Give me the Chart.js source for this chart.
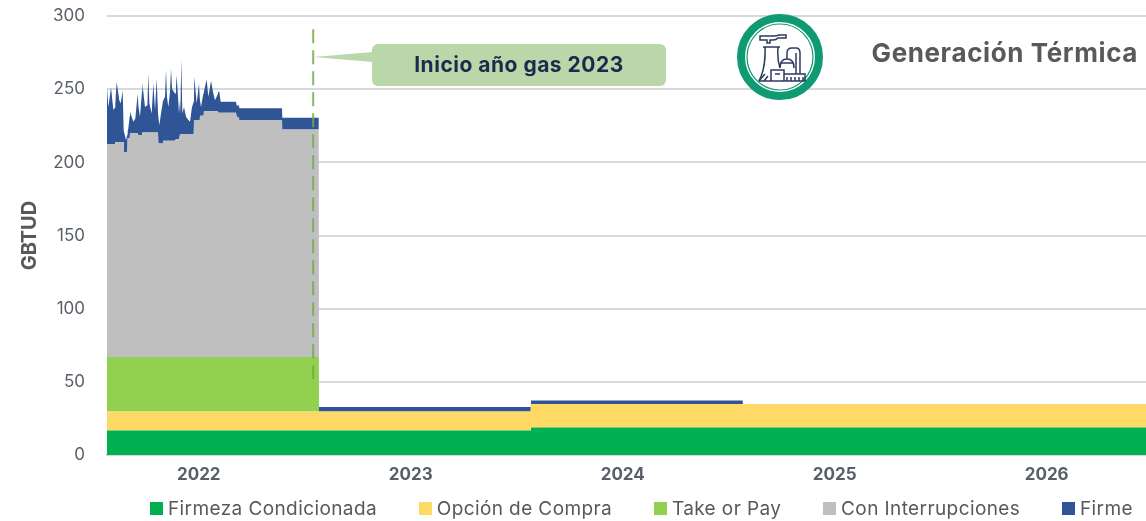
<!DOCTYPE html>
<html lang="es">
<head>
<meta charset="UTF-8">
<title>Generación Térmica</title>
<script src="https://cdn.jsdelivr.net/npm/chart.js@4"></script>
<style>
    html, body { margin: 0; padding: 0; background: #fff; overflow: hidden; }
    #wrap { position: relative; width: 1146px; height: 521px; font-family: 'Inter', sans-serif; }
    canvas { position: absolute; left: 0; top: 0; }
    #overlay { position: absolute; left: 0; top: 0; }
    #title { position: absolute; right: 8px; top: 37px; font-size: 26px; letter-spacing: 0.6px; font-weight: 700; color: #595959; white-space: nowrap; }
    #note { position: absolute; left: 372px; top: 44px; width: 294px; height: 42px; line-height: 42px; text-align: center;
            font-size: 21px; letter-spacing: 0.5px; font-weight: 700; color: #1d2a4d; white-space: nowrap; }
    #legend { position: absolute; left: 150px; width: 983px; top: 496px; display: flex; justify-content: space-between; font-size: 19px; letter-spacing: 0.4px; color: #595959; white-space: nowrap; }
    #legend span.item { display: flex; align-items: center; height: 24px; }
    #legend i { display: inline-block; width: 13px; height: 13px; margin-right: 5px; }
</style>
</head>
<body>
<div id="wrap">
    <canvas id="gasChart" width="1146" height="521"></canvas>
    <svg id="overlay" width="1146" height="521">
        <!-- callout -->
        <polygon points="313,57 373,52 373,62" fill="#b9d7a8"/>
        <rect x="372" y="44" width="294" height="42" rx="6" fill="#b9d7a8"/>
        <!-- plant icon -->
        <circle cx="780" cy="57" r="39" fill="#fff" stroke="#0f9a74" stroke-width="8"/>
        <circle cx="780" cy="57" r="33" fill="none" stroke="#0f9a74" stroke-width="1.2"/>
        <g fill="none" stroke="#2b3a5f" stroke-width="1.5">
            <path d="M760 36 h14 q3 0 5 -1 h7 v3 h-8 q-2 2 -5 2 h-3 v3 h-3 v-3 h-7 z"/>
            <path d="M763 47 h17 M765 47 q1 20 -6 34 M778 47 q-1 12 2 21"/>
            <path d="M759 81 h47 M771 81 v-11 h13 v11 M784 74 h21 v7 M775 74 h5"/>
            <path d="M780 68 q0 -9 7 -9 q7 0 7 9 M780 63 h14 M787 59 v-6 q0 -5 5 -5 h4 q4 0 4 5 v21 M796 53 v21"/>
            <path d="M787 77 v4 M791 77 v4 M795 77 v4 M799 77 v4 M803 77 v4 M759 81 l6 -7 M764 81 l4 -5"/>
        </g>
    </svg>
    <div id="title">Generación Térmica</div>
    <div id="note">Inicio año gas 2023</div>
    <div id="legend"></div>
</div>

<script>
    // Gas years and y axis
    const gasYears = ['2022', '2023', '2024', '2025', '2026'];
    const yearTickDays = [158, 523, 888, 1253, 1618];
    const yTicks = [0, 50, 100, 150, 200, 250, 300];

    // Flat parts of the stack, one value per gas year (GBTUD)
    const firmezaByYear = [16.8, 16.8, 18.8, 18.8, 18.8];
    const opcionByYear = [13, 13, 16, 16, 16];
    const takeOrPayByYear = [37.2, 0, 0, 0, 0];

    // First gas year, days since its start
    const days2022 = [0, 2.3, 6.9, 10.9, 13.8, 14.3, 16.6, 21.2, 23.5, 27, 28.7, 29.3, 32.7, 35, 35.6, 36.7, 39, 39.6, 45.3, 48.8,
        52.8, 54, 56.8, 60.3, 60.8, 65.4, 69.5, 71.2, 72.9, 76.9, 79.8, 82.7, 85.5, 87.8, 88.4, 90.1, 93, 96.4,
        97, 99.9, 101.6, 103.3, 105.6, 108.5, 110.2, 112, 113.1, 117.1, 118.8, 120, 124,
        125.7, 126.3, 128, 129.7, 132.6, 136, 140.1, 142.9, 146.4, 149.2, 149.8, 150.4, 154.4, 158.4, 159.6, 160.1, 161.9,
        165.9, 166.5, 167, 171.6, 174.5, 179.1, 183.1, 186, 191.1, 191.7, 193.4, 195.7, 222.1, 223.3, 227.3, 227.9, 301.4, 301.9, 364.5];
    const interrupciones2022 = [145.6, 145.6, 145.6, 145.6, 145.6, 147, 147, 147, 147, 147, 147, 140, 140, 140, 149.5, 149.5, 149.5, 153, 153, 153,
        153, 151.7, 151.7, 151.7, 153.5, 153.5, 153.5, 153.5, 153.5, 153.5, 153.5, 153.5, 153.5, 153.5, 146, 146, 146, 146,
        147.8, 147.8, 147.8, 147.8, 147.8, 147.8, 147.8, 147.8, 147.8, 147.8, 149, 149, 149,
        152.4, 152.4, 152.4, 152.4, 152.4, 152.4, 152.4, 152.4, 152.4, 152.4, 162, 162, 162, 162, 162, 165, 165,
        165, 165, 168, 168, 168, 168, 168, 168, 168, 167, 167, 167, 167, 164, 164, 162, 162, 155.5, 155.5];
    const firme2022 = [39.1, 25.4, 38.7, 23.2, 25, 26, 41.2, 28.6, 26.3, 35, 8, 14, 8.3, 12, 5, 6.8, 15, 14.7, 7.8, 10,
        27.2, 20.3, 12.5, 30, 34, 17.5, 18.7, 40.4, 20, 13, 33.5, 15.3, 36.9, 14, 18, 12.5, 20.5, 29,
        27.8, 30.1, 48.8, 30, 23.2, 33.5, 49.5, 36, 34.7, 32.4, 35.7, 43.7, 17.5,
        23.2, 14.1, 51, 14, 18.6, 11.8, 9.6, 8.4, 18.6, 22, 16, 29.6, 11.4, 25, 16, 10.6, 6,
        15.2, 15, 13.3, 21.8, 9.9, 20.8, 12.2, 7.6, 12, 14.3, 14.3, 7.5, 7.5, 8, 8, 8, 8, 8.1, 8.1];

    // After the first gas year only the step points are needed
    const daysLater = [365, 729.5, 730, 1094.5, 1095, 1789];
    const interrupcionesLater = [0, 0, 0, 0, 0, 0];
    const firmeLater = [3, 3, 2.5, 2.5, 0, 0];

    // Dashed guide, "Inicio año gas 2023"
    const guideDays = [355, 355];
    const guideValues = [291, 48];

    const days = days2022.concat(daysLater);
    const interrupciones = interrupciones2022.concat(interrupcionesLater);
    const firme = firme2022.concat(firmeLater);

    function byYear(values) {
        return days.map(d => ({ x: d, y: values[Math.floor(d / 365)] }));
    }
    function byPoint(values) {
        return days.map((d, i) => ({ x: d, y: values[i] }));
    }
    function area(label, data, color, fill) {
        return { label, data, backgroundColor: color, borderColor: color, borderWidth: 0, pointRadius: 0, tension: 0, fill };
    }

    const chart = new Chart(document.getElementById('gasChart').getContext('2d'), {
        type: 'line',
        data: {
            datasets: [
                area('Firmeza Condicionada', byYear(firmezaByYear), '#00b050', 'origin'),
                area('Opción de Compra', byYear(opcionByYear), '#ffd966', '-1'),
                area('Take or Pay', byYear(takeOrPayByYear), '#92d050', '-1'),
                area('Con Interrupciones', byPoint(interrupciones), '#bfbfbf', '-1'),
                area('Firme', byPoint(firme), '#2f5597', '-1'),
                {
                    label: 'guide',
                    stack: 'guide',
                    order: -1, // on top of the areas
                    data: guideDays.map((d, i) => ({ x: d, y: guideValues[i] })),
                    borderColor: 'rgba(112, 173, 71, 0.85)',
                    borderWidth: 2,
                    borderDash: [14, 7],
                    pointRadius: 0,
                    fill: false
                }
            ]
        },
        options: {
            responsive: false,
            animation: false,
            events: [],
            layout: { padding: { top: 0, bottom: 36 } },
            plugins: { legend: { display: false }, tooltip: { enabled: false } },
            scales: {
                x: {
                    type: 'linear',
                    min: 0,
                    max: 1789,
                    grid: { display: false },
                    border: { color: '#d9d9d9', width: 2 },
                    afterBuildTicks: axis => { axis.ticks = yearTickDays.map(value => ({ value })); },
                    afterFit: axis => { axis.height = 30; },
                    ticks: {
                        autoSkip: false,
                        maxRotation: 0,
                        padding: 2,
                        color: '#595f69',
                        font: { family: 'Inter', size: 17, weight: 'bold' },
                        callback: value => gasYears[yearTickDays.indexOf(value)]
                    }
                },
                y: {
                    stacked: true,
                    min: 0,
                    max: 300,
                    afterBuildTicks: axis => { axis.ticks = yTicks.map(value => ({ value })); },
                    afterFit: axis => { axis.width = 107; },
                    // tick marks hidden, their length only holds the labels off the axis
                    grid: { color: '#d9d9d9', lineWidth: 2, tickLength: 16, tickColor: 'rgba(0, 0, 0, 0)' },
                    border: { display: false },
                    title: {
                        display: true,
                        text: 'GBTUD',
                        color: '#595959',
                        padding: { top: 18, bottom: 0 },
                        font: { family: 'Inter', size: 20, weight: 'bold' }
                    },
                    ticks: {
                        padding: 6,
                        color: '#595f69',
                        font: { family: 'Inter', size: 17 }
                    }
                }
            }
        }
    });

    // Legend from the chart's own datasets
    const legend = document.getElementById('legend');
    chart.data.datasets.filter(ds => ds.label !== 'guide').forEach(ds => {
        const item = document.createElement('span');
        item.className = 'item';
        const box = document.createElement('i');
        box.style.background = ds.backgroundColor;
        item.appendChild(box);
        item.appendChild(document.createTextNode(ds.label));
        legend.appendChild(item);
    });
</script>
</body>
</html>
